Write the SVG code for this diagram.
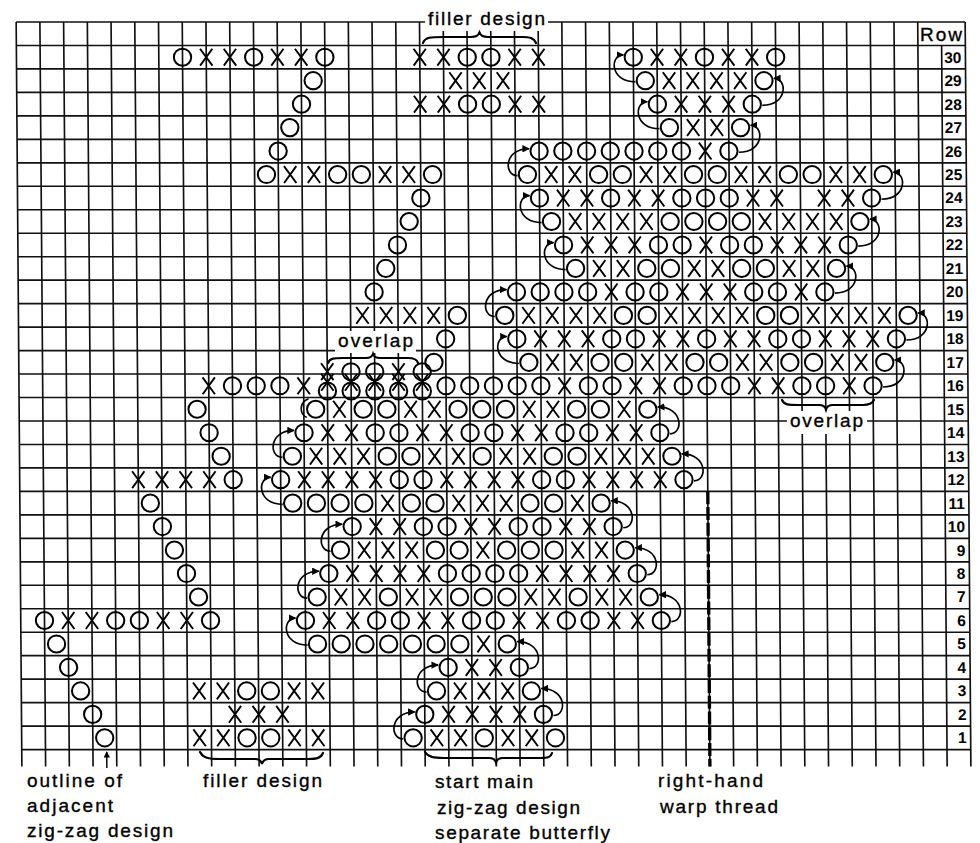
<svg xmlns="http://www.w3.org/2000/svg" width="980" height="843" viewBox="0 0 980 843">
<style>
.t{font-family:"Liberation Sans",Arial,sans-serif;font-size:19px;fill:#000;stroke:#000;stroke-width:0.35}
.n{font-family:"Liberation Sans",Arial,sans-serif;font-size:15.5px;font-weight:bold;fill:#000;text-anchor:end}
.br{fill:none;stroke:#000;stroke-width:2.2;stroke-linecap:round}
.ar{fill:none;stroke:#000;stroke-width:0.07}
</style>
<defs>
<circle id="o" r="0.365" fill="none" stroke="#000" stroke-width="0.085"/>
<path id="x" d="M-0.26,-0.36L0.26,0.36M0.26,-0.36L-0.26,0.36" fill="none" stroke="#000" stroke-width="0.08"/>
<marker id="ah" viewBox="0 0 10 10" refX="9" refY="5" markerWidth="4.5" markerHeight="4.5" orient="auto" markerUnits="strokeWidth"><path d="M0,0L10,5L0,10z" fill="#000"/></marker>
</defs>
<rect width="980" height="843" fill="#fff"/>
<g transform="skewX(0.44)">
<g transform="translate(16,22) scale(23.725,23.47)">
<g id="grid" fill="none" stroke="#111" stroke-width="0.07">
<path d="M0 0V31.72M1 0V31.72M2 0V31.72M3 0V31.72M4 0V31.72M5 0V31.72M6 0V31.72M7 0V31.72M8 0V31.72M9 0V31.72M10 0V31.72M11 0V31.72M12 0V31.72M13 0V31.72M14 0V31.72M15 0V31.72M16 0V31.72M17 0V31.72M18 0V31.72M19 0V31.72M20 0V31.72M21 0V31.72M22 0V31.72M23 0V31.72M24 0V31.72M25 0V31.72M26 0V31.72M27 0V31.72M28 0V31.72M29 0V31.72M30 0V31.72M31 0V31.72M32 0V31.72M33 0V31.72M34 0V31.72M35 0V31.72M36 0V31.72M37 0V31.72M38 0V31.72M39 1V31.72M40 0V31.72"/>
<path d="M0 0H40M0 1H40M0 2H40M0 3H40M0 4H40M0 5H40M0 6H40M0 7H40M0 8H40M0 9H40M0 10H40M0 11H40M0 12H40M0 13H40M0 14H40M0 15H40M0 16H40M0 17H40M0 18H40M0 19H40M0 20H40M0 21H40M0 22H40M0 23H40M0 24H40M0 25H40M0 26H40M0 27H40M0 28H40M0 29H40M0 30H40M0 31H40"/>
</g>
<path id="warp-thread" d="M29 20V31.72" fill="none" stroke="#000" stroke-width="0.14" stroke-dasharray="0.55 0.12"/>

<g id="design-upper-left">
<g transform="translate(0,1.5)"><use href="#o" x="7"/><use href="#x" x="8"/><use href="#x" x="9"/><use href="#o" x="10"/><use href="#x" x="11"/><use href="#x" x="12"/><use href="#o" x="13"/></g>
<use href="#o" x="12.5" y="2.5"/>
<use href="#o" x="12" y="3.5"/>
<use href="#o" x="11.5" y="4.5"/>
<use href="#o" x="11" y="5.5"/>
<g transform="translate(0,6.5)"><use href="#o" x="10.5"/><use href="#x" x="11.5"/><use href="#x" x="12.5"/><use href="#o" x="13.5"/><use href="#o" x="14.5"/><use href="#x" x="15.5"/><use href="#x" x="16.5"/><use href="#o" x="17.5"/></g>
<use href="#o" x="17" y="7.5"/>
<use href="#o" x="16.5" y="8.5"/>
<use href="#o" x="16" y="9.5"/>
<use href="#o" x="15.5" y="10.5"/>
<use href="#o" x="15" y="11.5"/>
<g transform="translate(0,12.5)"><use href="#x" x="14.5"/><use href="#x" x="15.5"/><use href="#x" x="16.5"/><use href="#x" x="17.5"/><use href="#o" x="18.5"/></g>
<use href="#o" x="18" y="13.5"/>
<use href="#o" x="17.5" y="14.5"/>
</g>

<g id="overlap-left">
<g transform="translate(0,14.9)"><use href="#x" x="13"/><use href="#o" x="14"/><use href="#o" x="15"/><use href="#x" x="16"/><use href="#o" x="17"/></g>
<g transform="translate(0,15.35)"><use href="#x" x="13"/><use href="#x" x="14"/><use href="#x" x="15"/><use href="#x" x="16"/><use href="#x" x="17"/></g>
<g transform="translate(0,15.72)"><use href="#o" x="13"/><use href="#o" x="14"/><use href="#o" x="15"/><use href="#o" x="16"/><use href="#o" x="17"/></g>
</g>

<g id="design-adjacent">
<g transform="translate(0,15.5)"><use href="#x" x="8"/><use href="#o" x="9"/><use href="#o" x="10"/><use href="#o" x="11"/><use href="#x" x="12"/></g>
<use href="#o" x="7.5" y="16.5"/>
<use href="#o" x="8" y="17.5"/>
<use href="#o" x="8.5" y="18.5"/>
<g transform="translate(0,19.5)"><use href="#x" x="5"/><use href="#x" x="6"/><use href="#x" x="7"/><use href="#x" x="8"/><use href="#o" x="9"/></g>
<use href="#o" x="5.5" y="20.5"/>
<use href="#o" x="6" y="21.5"/>
<use href="#o" x="6.5" y="22.5"/>
<use href="#o" x="7" y="23.5"/>
<use href="#o" x="7.5" y="24.5"/>
<g transform="translate(0,25.5)"><use href="#o" x="1"/><use href="#x" x="2"/><use href="#x" x="3"/><use href="#o" x="4"/><use href="#o" x="5"/><use href="#x" x="6"/><use href="#x" x="7"/><use href="#o" x="8"/></g>
<use href="#o" x="1.5" y="26.5"/>
<use href="#o" x="2" y="27.5"/>
<use href="#o" x="2.5" y="28.5"/>
<use href="#o" x="3" y="29.5"/>
<use href="#o" x="3.5" y="30.5"/>
</g>

<g id="filler-top">
<g transform="translate(0,1.5)"><use href="#x" x="17"/><use href="#x" x="18"/><use href="#o" x="19"/><use href="#o" x="20"/><use href="#x" x="21"/><use href="#x" x="22"/></g>
<g transform="translate(0,2.5)"><use href="#x" x="18.5"/><use href="#x" x="19.5"/><use href="#x" x="20.5"/></g>
<g transform="translate(0,3.5)"><use href="#x" x="17"/><use href="#x" x="18"/><use href="#o" x="19"/><use href="#o" x="20"/><use href="#x" x="21"/><use href="#x" x="22"/></g>
</g>

<g id="filler-bottom">
<g transform="translate(0,28.5)"><use href="#x" x="7.5"/><use href="#x" x="8.5"/><use href="#o" x="9.5"/><use href="#o" x="10.5"/><use href="#x" x="11.5"/><use href="#x" x="12.5"/></g>
<g transform="translate(0,29.5)"><use href="#x" x="9"/><use href="#x" x="10"/><use href="#x" x="11"/></g>
<g transform="translate(0,30.5)"><use href="#x" x="7.5"/><use href="#x" x="8.5"/><use href="#o" x="9.5"/><use href="#o" x="10.5"/><use href="#x" x="11.5"/><use href="#x" x="12.5"/></g>
</g>

<g id="design-main">
<g transform="translate(0,30.5)"><use href="#o" x="16.5"/><use href="#x" x="17.5"/><use href="#x" x="18.5"/><use href="#o" x="19.5"/><use href="#x" x="20.5"/><use href="#x" x="21.5"/><use href="#o" x="22.5"/></g>
<g transform="translate(0,29.5)"><use href="#o" x="17"/><use href="#x" x="18"/><use href="#x" x="19"/><use href="#x" x="20"/><use href="#x" x="21"/><use href="#o" x="22"/></g>
<g transform="translate(0,28.5)"><use href="#o" x="17.5"/><use href="#x" x="18.5"/><use href="#x" x="19.5"/><use href="#x" x="20.5"/><use href="#o" x="21.5"/></g>
<g transform="translate(0,27.5)"><use href="#o" x="18"/><use href="#x" x="19"/><use href="#x" x="20"/><use href="#o" x="21"/></g>
<g transform="translate(0,26.5)"><use href="#o" x="12.5"/><use href="#o" x="13.5"/><use href="#o" x="14.5"/><use href="#o" x="15.5"/><use href="#o" x="16.5"/><use href="#o" x="17.5"/><use href="#o" x="18.5"/><use href="#x" x="19.5"/><use href="#o" x="20.5"/></g>
<g transform="translate(0,25.5)"><use href="#o" x="12"/><use href="#x" x="13"/><use href="#x" x="14"/><use href="#o" x="15"/><use href="#o" x="16"/><use href="#x" x="17"/><use href="#x" x="18"/><use href="#o" x="19"/><use href="#o" x="20"/><use href="#x" x="21"/><use href="#x" x="22"/><use href="#o" x="23"/><use href="#o" x="24"/><use href="#x" x="25"/><use href="#x" x="26"/><use href="#o" x="27"/></g>
<g transform="translate(0,24.5)"><use href="#o" x="12.5"/><use href="#x" x="13.5"/><use href="#x" x="14.5"/><use href="#o" x="15.5"/><use href="#x" x="16.5"/><use href="#x" x="17.5"/><use href="#o" x="18.5"/><use href="#o" x="19.5"/><use href="#o" x="20.5"/><use href="#x" x="21.5"/><use href="#x" x="22.5"/><use href="#o" x="23.5"/><use href="#x" x="24.5"/><use href="#x" x="25.5"/><use href="#o" x="26.5"/></g>
<g transform="translate(0,23.5)"><use href="#o" x="13"/><use href="#x" x="14"/><use href="#x" x="15"/><use href="#x" x="16"/><use href="#x" x="17"/><use href="#o" x="18"/><use href="#o" x="19"/><use href="#o" x="20"/><use href="#o" x="21"/><use href="#x" x="22"/><use href="#x" x="23"/><use href="#x" x="24"/><use href="#x" x="25"/><use href="#o" x="26"/></g>
<g transform="translate(0,22.5)"><use href="#o" x="13.5"/><use href="#x" x="14.5"/><use href="#x" x="15.5"/><use href="#x" x="16.5"/><use href="#o" x="17.5"/><use href="#o" x="18.5"/><use href="#x" x="19.5"/><use href="#o" x="20.5"/><use href="#o" x="21.5"/><use href="#o" x="22.5"/><use href="#x" x="23.5"/><use href="#x" x="24.5"/><use href="#o" x="25.5"/></g>
<g transform="translate(0,21.5)"><use href="#o" x="14"/><use href="#x" x="15"/><use href="#x" x="16"/><use href="#o" x="17"/><use href="#o" x="18"/><use href="#x" x="19"/><use href="#x" x="20"/><use href="#o" x="21"/><use href="#o" x="22"/><use href="#x" x="23"/><use href="#x" x="24"/><use href="#o" x="25"/></g>
<g transform="translate(0,20.5)"><use href="#o" x="11.5"/><use href="#o" x="12.5"/><use href="#o" x="13.5"/><use href="#o" x="14.5"/><use href="#x" x="15.5"/><use href="#o" x="16.5"/><use href="#o" x="17.5"/><use href="#x" x="18.5"/><use href="#x" x="19.5"/><use href="#x" x="20.5"/><use href="#o" x="21.5"/><use href="#o" x="22.5"/><use href="#x" x="23.5"/><use href="#o" x="24.5"/></g>
<g transform="translate(0,19.5)"><use href="#o" x="11"/><use href="#x" x="12"/><use href="#x" x="13"/><use href="#x" x="14"/><use href="#x" x="15"/><use href="#o" x="16"/><use href="#o" x="17"/><use href="#x" x="18"/><use href="#x" x="19"/><use href="#x" x="20"/><use href="#x" x="21"/><use href="#o" x="22"/><use href="#o" x="23"/><use href="#x" x="24"/><use href="#x" x="25"/><use href="#x" x="26"/><use href="#x" x="27"/><use href="#o" x="28"/></g>
<g transform="translate(0,18.5)"><use href="#o" x="11.5"/><use href="#x" x="12.5"/><use href="#x" x="13.5"/><use href="#x" x="14.5"/><use href="#o" x="15.5"/><use href="#o" x="16.5"/><use href="#x" x="17.5"/><use href="#x" x="18.5"/><use href="#o" x="19.5"/><use href="#x" x="20.5"/><use href="#x" x="21.5"/><use href="#o" x="22.5"/><use href="#o" x="23.5"/><use href="#x" x="24.5"/><use href="#x" x="25.5"/><use href="#x" x="26.5"/><use href="#o" x="27.5"/></g>
<g transform="translate(0,17.5)"><use href="#o" x="12"/><use href="#x" x="13"/><use href="#x" x="14"/><use href="#o" x="15"/><use href="#o" x="16"/><use href="#x" x="17"/><use href="#x" x="18"/><use href="#o" x="19"/><use href="#o" x="20"/><use href="#x" x="21"/><use href="#x" x="22"/><use href="#o" x="23"/><use href="#o" x="24"/><use href="#x" x="25"/><use href="#x" x="26"/><use href="#o" x="27"/></g>
<g transform="translate(0,16.5)"><use href="#o" x="12.5"/><use href="#x" x="13.5"/><use href="#o" x="14.5"/><use href="#o" x="15.5"/><use href="#x" x="16.5"/><use href="#x" x="17.5"/><use href="#o" x="18.5"/><use href="#o" x="19.5"/><use href="#o" x="20.5"/><use href="#x" x="21.5"/><use href="#x" x="22.5"/><use href="#o" x="23.5"/><use href="#o" x="24.5"/><use href="#x" x="25.5"/><use href="#o" x="26.5"/></g>
<g transform="translate(0,15.5)"><use href="#o" x="18"/><use href="#o" x="19"/><use href="#o" x="20"/><use href="#o" x="21"/><use href="#o" x="22"/><use href="#x" x="23"/><use href="#o" x="24"/><use href="#o" x="25"/><use href="#x" x="26"/><use href="#x" x="27"/><use href="#o" x="28"/><use href="#o" x="29"/><use href="#o" x="30"/><use href="#x" x="31"/><use href="#x" x="32"/><use href="#o" x="33"/><use href="#o" x="34"/><use href="#x" x="35"/><use href="#o" x="36"/></g>
<g transform="translate(0,14.5)"><use href="#o" x="21.5"/><use href="#x" x="22.5"/><use href="#x" x="23.5"/><use href="#o" x="24.5"/><use href="#o" x="25.5"/><use href="#x" x="26.5"/><use href="#x" x="27.5"/><use href="#o" x="28.5"/><use href="#o" x="29.5"/><use href="#x" x="30.5"/><use href="#x" x="31.5"/><use href="#o" x="32.5"/><use href="#o" x="33.5"/><use href="#x" x="34.5"/><use href="#x" x="35.5"/><use href="#o" x="36.5"/></g>
<g transform="translate(0,13.5)"><use href="#o" x="21"/><use href="#x" x="22"/><use href="#x" x="23"/><use href="#x" x="24"/><use href="#o" x="25"/><use href="#o" x="26"/><use href="#x" x="27"/><use href="#x" x="28"/><use href="#o" x="29"/><use href="#x" x="30"/><use href="#x" x="31"/><use href="#o" x="32"/><use href="#o" x="33"/><use href="#x" x="34"/><use href="#x" x="35"/><use href="#x" x="36"/><use href="#o" x="37"/></g>
<g transform="translate(0,12.5)"><use href="#o" x="20.5"/><use href="#x" x="21.5"/><use href="#x" x="22.5"/><use href="#x" x="23.5"/><use href="#x" x="24.5"/><use href="#o" x="25.5"/><use href="#o" x="26.5"/><use href="#x" x="27.5"/><use href="#x" x="28.5"/><use href="#x" x="29.5"/><use href="#x" x="30.5"/><use href="#o" x="31.5"/><use href="#o" x="32.5"/><use href="#x" x="33.5"/><use href="#x" x="34.5"/><use href="#x" x="35.5"/><use href="#x" x="36.5"/><use href="#o" x="37.5"/></g>
<g transform="translate(0,11.5)"><use href="#o" x="21"/><use href="#o" x="22"/><use href="#o" x="23"/><use href="#o" x="24"/><use href="#x" x="25"/><use href="#o" x="26"/><use href="#o" x="27"/><use href="#x" x="28"/><use href="#x" x="29"/><use href="#x" x="30"/><use href="#o" x="31"/><use href="#o" x="32"/><use href="#x" x="33"/><use href="#o" x="34"/></g>
<g transform="translate(0,10.5)"><use href="#o" x="23.5"/><use href="#x" x="24.5"/><use href="#x" x="25.5"/><use href="#o" x="26.5"/><use href="#o" x="27.5"/><use href="#x" x="28.5"/><use href="#x" x="29.5"/><use href="#o" x="30.5"/><use href="#o" x="31.5"/><use href="#x" x="32.5"/><use href="#x" x="33.5"/><use href="#o" x="34.5"/></g>
<g transform="translate(0,9.5)"><use href="#o" x="23"/><use href="#x" x="24"/><use href="#x" x="25"/><use href="#x" x="26"/><use href="#o" x="27"/><use href="#o" x="28"/><use href="#x" x="29"/><use href="#o" x="30"/><use href="#o" x="31"/><use href="#x" x="32"/><use href="#x" x="33"/><use href="#x" x="34"/><use href="#o" x="35"/></g>
<g transform="translate(0,8.5)"><use href="#o" x="22.5"/><use href="#x" x="23.5"/><use href="#x" x="24.5"/><use href="#x" x="25.5"/><use href="#x" x="26.5"/><use href="#o" x="27.5"/><use href="#o" x="28.5"/><use href="#o" x="29.5"/><use href="#o" x="30.5"/><use href="#x" x="31.5"/><use href="#x" x="32.5"/><use href="#x" x="33.5"/><use href="#x" x="34.5"/><use href="#o" x="35.5"/></g>
<g transform="translate(0,7.5)"><use href="#o" x="22"/><use href="#x" x="23"/><use href="#x" x="24"/><use href="#o" x="25"/><use href="#x" x="26"/><use href="#x" x="27"/><use href="#o" x="28"/><use href="#o" x="29"/><use href="#o" x="30"/><use href="#x" x="31"/><use href="#x" x="32"/><use href="#x" x="34"/><use href="#x" x="35"/><use href="#o" x="36"/></g>
<g transform="translate(0,6.5)"><use href="#o" x="21.5"/><use href="#x" x="22.5"/><use href="#x" x="23.5"/><use href="#o" x="24.5"/><use href="#o" x="25.5"/><use href="#x" x="26.5"/><use href="#x" x="27.5"/><use href="#o" x="28.5"/><use href="#o" x="29.5"/><use href="#x" x="30.5"/><use href="#x" x="31.5"/><use href="#o" x="32.5"/><use href="#o" x="33.5"/><use href="#x" x="34.5"/><use href="#x" x="35.5"/><use href="#o" x="36.5"/></g>
<g transform="translate(0,5.5)"><use href="#o" x="22"/><use href="#o" x="23"/><use href="#o" x="24"/><use href="#o" x="25"/><use href="#o" x="26"/><use href="#o" x="27"/><use href="#o" x="28"/><use href="#x" x="29"/><use href="#o" x="30"/></g>
<g transform="translate(0,4.5)"><use href="#o" x="27.5"/><use href="#x" x="28.5"/><use href="#x" x="29.5"/><use href="#o" x="30.5"/></g>
<g transform="translate(0,3.5)"><use href="#o" x="27"/><use href="#x" x="28"/><use href="#x" x="29"/><use href="#x" x="30"/><use href="#o" x="31"/></g>
<g transform="translate(0,2.5)"><use href="#o" x="26.5"/><use href="#x" x="27.5"/><use href="#x" x="28.5"/><use href="#x" x="29.5"/><use href="#x" x="30.5"/><use href="#o" x="31.5"/></g>
<g transform="translate(0,1.5)"><use href="#o" x="26"/><use href="#x" x="27"/><use href="#x" x="28"/><use href="#o" x="29"/><use href="#x" x="30"/><use href="#x" x="31"/><use href="#o" x="32"/></g>
</g>

<g id="connectors" class="ar">
<path marker-end="url(#ah)" d="M16.08,30.55C15.5,30.55 15.5,29.4 16.58,29.4"/>
<path marker-end="url(#ah)" d="M22.42,29.55C23,29.55 23,28.4 21.92,28.4"/>
<path marker-end="url(#ah)" d="M17.08,28.55C16.5,28.55 16.5,27.4 17.58,27.4"/>
<path marker-end="url(#ah)" d="M21.42,27.55C22,27.55 22,26.4 20.92,26.4"/>
<path marker-end="url(#ah)" d="M12.08,26.55C11,26.55 11,25.4 11.58,25.4"/>
<path marker-end="url(#ah)" d="M27.42,25.55C28,25.55 28,24.4 26.92,24.4"/>
<path marker-end="url(#ah)" d="M12.08,24.55C11.5,24.55 11.5,23.4 12.58,23.4"/>
<path marker-end="url(#ah)" d="M26.42,23.55C27,23.55 27,22.4 25.92,22.4"/>
<path marker-end="url(#ah)" d="M13.08,22.55C12.5,22.55 12.5,21.4 13.58,21.4"/>
<path marker-end="url(#ah)" d="M25.42,21.55C26,21.55 26,20.4 24.92,20.4"/>
<path marker-end="url(#ah)" d="M11.08,20.55C10,20.55 10,19.4 10.58,19.4"/>
<path marker-end="url(#ah)" d="M28.42,19.55C29,19.55 29,18.4 27.92,18.4"/>
<path marker-end="url(#ah)" d="M11.08,18.55C10.5,18.55 10.5,17.4 11.58,17.4"/>
<path marker-end="url(#ah)" d="M27.42,17.55C28,17.55 28,16.4 26.92,16.4"/>
<path d="M12.12,16.85C11.8,16.7 11.8,16.2 12.2,16.05"/>
<path marker-end="url(#ah)" d="M36.42,15.55C37.5,15.55 37.5,14.4 36.92,14.4"/>
<path marker-end="url(#ah)" d="M21.08,14.55C20,14.55 20,13.4 20.58,13.4"/>
<path marker-end="url(#ah)" d="M37.42,13.55C38.5,13.55 38.5,12.4 37.92,12.4"/>
<path marker-end="url(#ah)" d="M20.08,12.55C19.5,12.55 19.5,11.4 20.58,11.4"/>
<path marker-end="url(#ah)" d="M34.42,11.55C35.5,11.55 35.5,10.4 34.92,10.4"/>
<path marker-end="url(#ah)" d="M23.08,10.55C22,10.55 22,9.4 22.58,9.4"/>
<path marker-end="url(#ah)" d="M35.42,9.55C36.5,9.55 36.5,8.4 35.92,8.4"/>
<path marker-end="url(#ah)" d="M22.08,8.55C21,8.55 21,7.4 21.58,7.4"/>
<path marker-end="url(#ah)" d="M36.42,7.55C37.5,7.55 37.5,6.4 36.92,6.4"/>
<path marker-end="url(#ah)" d="M21.08,6.55C20.5,6.55 20.5,5.4 21.58,5.4"/>
<path marker-end="url(#ah)" d="M30.42,5.55C31.5,5.55 31.5,4.4 30.92,4.4"/>
<path marker-end="url(#ah)" d="M27.08,4.55C26,4.55 26,3.4 26.58,3.4"/>
<path marker-end="url(#ah)" d="M31.42,3.55C32.5,3.55 32.5,2.4 31.92,2.4"/>
<path marker-end="url(#ah)" d="M26.08,2.55C25,2.55 25,1.4 25.58,1.4"/>
<path marker-end="url(#ah)" d="M3.58,31.78V31.1" stroke-width="0.06"/>
</g>
</g>
<g id="row-numbers">
<text class="n" x="961" y="62.7">30</text>
<text class="n" x="961" y="86.2">29</text>
<text class="n" x="961" y="109.6">28</text>
<text class="n" x="961" y="133.1">27</text>
<text class="n" x="961" y="156.6">26</text>
<text class="n" x="961" y="180">25</text>
<text class="n" x="961" y="203.5">24</text>
<text class="n" x="961" y="227">23</text>
<text class="n" x="961" y="250.5">22</text>
<text class="n" x="961" y="273.9">21</text>
<text class="n" x="961" y="297.4">20</text>
<text class="n" x="961" y="320.9">19</text>
<text class="n" x="961" y="344.3">18</text>
<text class="n" x="961" y="367.8">17</text>
<text class="n" x="961" y="391.3">16</text>
<text class="n" x="961" y="414.7">15</text>
<text class="n" x="961" y="438.2">14</text>
<text class="n" x="961" y="461.7">13</text>
<text class="n" x="961" y="485.2">12</text>
<text class="n" x="961" y="508.6">11</text>
<text class="n" x="961" y="532.1">10</text>
<text class="n" x="961" y="555.6">9</text>
<text class="n" x="961" y="579">8</text>
<text class="n" x="961" y="602.5">7</text>
<text class="n" x="961" y="626">6</text>
<text class="n" x="961" y="649.4">5</text>
<text class="n" x="961" y="672.9">4</text>
<text class="n" x="961" y="696.4">3</text>
<text class="n" x="961" y="719.9">2</text>
<text class="n" x="961" y="743.3">1</text>
</g>
</g>
<g id="labels">
<rect x="425" y="5" width="123" height="26" fill="#fff"/>
<rect x="335" y="331" width="81" height="22" fill="#fff"/>
<rect x="787" y="411" width="80" height="23" fill="#fff"/>
<text class="t" x="428" y="25" textLength="117" lengthAdjust="spacing">filler design</text>
<text class="t" x="920" y="41" textLength="42" lengthAdjust="spacing">Row</text>
<text class="t" x="338" y="347" textLength="75" lengthAdjust="spacing">overlap</text>
<text class="t" x="790" y="427" textLength="73" lengthAdjust="spacing">overlap</text>
<text class="t" x="27" y="787" textLength="95" lengthAdjust="spacing">outline of</text>
<text class="t" x="27" y="812" textLength="86" lengthAdjust="spacing">adjacent</text>
<text class="t" x="27" y="837" textLength="146" lengthAdjust="spacing">zig-zag design</text>
<text class="t" x="203" y="787" textLength="119" lengthAdjust="spacing">filler design</text>
<text class="t" x="435" y="788" textLength="98" lengthAdjust="spacing">start main</text>
<text class="t" x="437" y="813.5" textLength="143" lengthAdjust="spacing">zig-zag design</text>
<text class="t" x="435" y="839" textLength="175" lengthAdjust="spacing">separate butterfly</text>
<text class="t" x="658" y="787" textLength="105" lengthAdjust="spacing">right-hand</text>
<text class="t" x="660" y="812.5" textLength="118" lengthAdjust="spacing">warp thread</text>
<path class="br" d="M423,43C425,37 431,37 443,37L471,37C476,37 478,36 479.5,32.5C481,36 483,37 488,37L522,37C530,37 534,38 536,43"/>
<path class="br" d="M328,363C330,358 334,358 343,358L366,358C370,358 372,357 373,354C374,357 376,358 380,358L408,358C414,358 417,359 418,363"/>
<path class="br" d="M782,400C784,405 789,405 798,405L819,405C823,405 825,406 826,409.5C827,406 829,405 833,405L863,405C869,405 872,404 874,400"/>
<path class="br" d="M200,752C203,758 209,759 219,759L255,759C259,759 261,760 262,764C263,760 265,759 269,759L308,759C317,759 321,758 323,753"/>
<path class="br" d="M425,752C428,757 434,758 444,758L489,758C493,758 495,759 496,762.5C497,759 499,758 503,758L540,758C548,758 551,757 552,753"/>
</g>
</svg>
